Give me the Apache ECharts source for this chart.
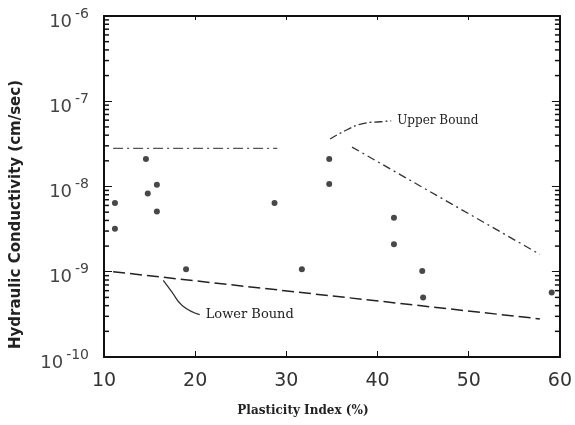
<!DOCTYPE html>
<html>
<head>
<meta charset="utf-8">
<script src="https://cdn.jsdelivr.net/npm/echarts@6/dist/echarts.min.js"></script>
<style>
  html, body { margin: 0; padding: 0; background: #fff; }
  #chart { width: 575px; height: 425px; }
</style>
</head>
<body>
<div id="chart"></div>
<script>
    // measured points: plasticity index (%) vs hydraulic conductivity (cm/sec)
    var plasticityIndex = [14.6, 15.8, 14.8, 11.2, 15.8, 11.2, 19.0, 28.7, 31.7, 34.7, 34.7, 41.8, 41.8, 44.9, 45.0, 59.1];
    var conductivity = [2.1e-8, 1.05e-8, 8.3e-9, 6.4e-9, 5.1e-9, 3.2e-9, 1.07e-9, 6.4e-9, 1.07e-9, 2.1e-8, 1.07e-8, 4.3e-9, 2.1e-9, 1.02e-9, 5.0e-10, 5.7e-10];

    // bounds
    var upperFlat = [[11, 2.8e-8], [29, 2.8e-8]];
    var upperSlope = [[37.2, 2.9e-8], [57.8, 1.6e-9]];
    var lowerBound = [[11, 1.0e-9], [57.8, 2.8e-10]];

    // leader lines for the annotations
    var upperLeader = [[34.8, 3.6e-8], [36.6, 4.6e-8], [38.5, 5.5e-8], [40.3, 5.75e-8], [41.5, 5.9e-8]];
    var lowerLeader = [[16.5, 7.9e-10], [17.4, 5.9e-10], [18.6, 4.0e-10], [20.5, 3.15e-10]];

    var xTicks = [10, 20, 30, 40, 50, 60];

    // log minor ticks (2..9 in each decade)
    var minorMultipliers = [2, 3, 4, 5, 6, 7, 8, 9];
    var decades = [1e-10, 1e-9, 1e-8, 1e-7];
    var minorTicks = [];
    decades.forEach(function (d) {
        minorMultipliers.forEach(function (m) { minorTicks.push([10, m * d]); });
    });

    var points = plasticityIndex.map(function (x, i) { return [x, conductivity[i]]; });

    var chart = echarts.init(document.getElementById('chart'));

    var frameLine = { lineStyle: { color: '#111', width: 2 } };

    chart.setOption({
        animation: false,
        backgroundColor: '#fff',
        grid: { left: 104, top: 16, right: 15, bottom: 68 },
        xAxis: [{
            type: 'value', min: 10, max: 60, interval: 10,
            axisLine: frameLine,
            axisTick: { inside: true, length: 6, lineStyle: { color: '#111' } },
            splitLine: { show: false },
            axisLabel: {
                margin: 15, fontSize: 19, color: '#333', fontFamily: 'DejaVu Sans',
                formatter: function (v) { return xTicks.indexOf(v) >= 0 ? String(v) : ''; }
            },
            name: 'Plasticity Index (%)', nameLocation: 'middle', nameGap: 48,
            nameTextStyle: { fontSize: 12, fontWeight: 'bold', color: '#222', fontFamily: 'DejaVu Serif', padding: [0, 58, 0, 0] }
        }, {
            type: 'value', min: 10, max: 60, interval: 10, position: 'top',
            axisLine: frameLine,
            axisTick: { inside: true, length: 4, lineStyle: { color: '#111' } },
            axisLabel: { show: false }, splitLine: { show: false }
        }],
        yAxis: [{
            type: 'log', logBase: 10, min: 1e-10, max: 1e-6,
            axisLine: frameLine,
            axisTick: { inside: true, length: 8, lineStyle: { color: '#111' } },
            splitLine: { show: false },
            axisLabel: {
                margin: 15, color: '#444',
                formatter: function (v) {
                    var e = Math.round(Math.log10(v));
                    return '{b|10}{s|' + e + '}';
                },
                rich: {
                    b: { fontSize: 18, fontFamily: 'DejaVu Sans', color: '#444', verticalAlign: 'bottom', lineHeight: 30 },
                    s: { fontSize: 14, fontFamily: 'DejaVu Sans', color: '#444', verticalAlign: 'top', lineHeight: 30, padding: [6, 0, 0, 3] }
                }
            },
            name: 'Hydraulic Conductivity (cm/sec)', nameLocation: 'middle', nameGap: 80,
            nameTextStyle: { fontSize: 15, fontWeight: 'bold', color: '#222', fontFamily: 'DejaVu Sans', padding: [0, 56, 0, 0] }
        }, {
            type: 'log', logBase: 10, min: 1e-10, max: 1e-6, position: 'right',
            axisLine: frameLine,
            axisTick: { inside: true, length: 8, lineStyle: { color: '#111' } },
            axisLabel: { show: false }, splitLine: { show: false }
        }],
        series: [
            {
                type: 'custom', data: minorTicks, silent: true,
                renderItem: function (params, api) {
                    var v = api.value(1);
                    var l = api.coord([10, v]);
                    var r = api.coord([60, v]);
                    return {
                        type: 'group',
                        children: [
                            { type: 'line', shape: { x1: l[0], y1: l[1], x2: l[0] + 5, y2: l[1] }, style: { stroke: '#111', lineWidth: 1.5 } },
                            { type: 'line', shape: { x1: r[0] - 5, y1: r[1], x2: r[0], y2: r[1] }, style: { stroke: '#111', lineWidth: 1.5 } }
                        ]
                    };
                }
            },
            {
                type: 'scatter', data: points, symbolSize: 6,
                itemStyle: { color: '#1a1a1a' }
            },
            {
                type: 'line', data: upperFlat, symbol: 'none',
                lineStyle: { color: '#555', width: 1.3, type: [10, 4, 2, 4] }
            },
            {
                type: 'line', data: upperSlope, symbol: 'none',
                lineStyle: { color: '#333', width: 1.3, type: [8, 4, 2, 4] }
            },
            {
                type: 'line', data: lowerBound, symbol: 'none',
                lineStyle: { color: '#222', width: 1.5, type: [12, 5] }
            },
            {
                type: 'line', data: upperLeader, symbol: 'none', smooth: true,
                lineStyle: { color: '#333', width: 1.3, type: [8, 3, 2, 3] },
                endLabel: {
                    show: true, formatter: 'Upper Bound', distance: 6,
                    fontSize: 12, fontFamily: 'DejaVu Serif', color: '#222'
                }
            },
            {
                type: 'line', data: lowerLeader, symbol: 'none', smooth: true,
                lineStyle: { color: '#333', width: 1.3 },
                endLabel: {
                    show: true, formatter: 'Lower Bound', distance: 6,
                    fontSize: 13, fontFamily: 'DejaVu Serif', color: '#222'
                }
            }
        ]
    });
</script>
</body>
</html>
